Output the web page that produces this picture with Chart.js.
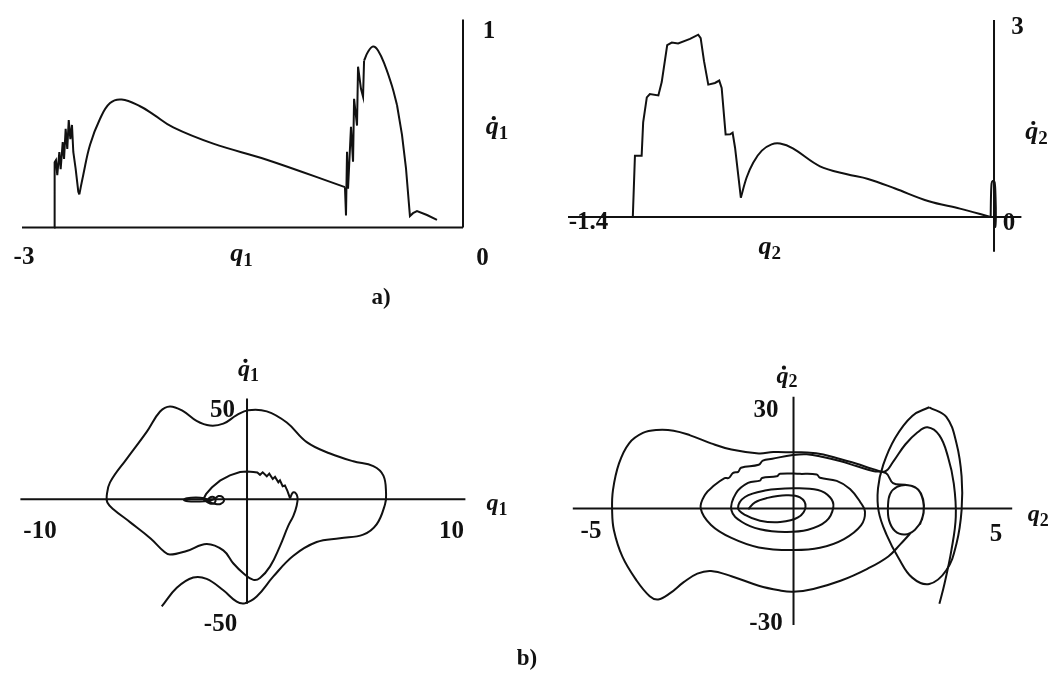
<!DOCTYPE html>
<html>
<head>
<meta charset="utf-8">
<script src="https://cdn.jsdelivr.net/npm/chart.js@4.4.1/dist/chart.umd.min.js"></script>
<style>
  html, body { margin: 0; padding: 0; background: #fff; }
  #fig { position: relative; width: 1056px; height: 681px; overflow: hidden; background: #fff; }
  #fig canvas { position: absolute; }
  .cap { position: absolute; font: bold 23px "Liberation Serif", "Times New Roman", serif; color: #111;
         line-height: 1; transform: translate(-50%, -50%); white-space: nowrap; }
</style>
</head>
<body>
<div id="fig">
  <canvas id="panelA" width="528" height="310" style="left:0;top:0"></canvas>
  <canvas id="panelB" width="528" height="310" style="left:528px;top:0"></canvas>
  <canvas id="panelC" width="528" height="351" style="left:0;top:330px"></canvas>
  <canvas id="panelD" width="528" height="351" style="left:528px;top:330px"></canvas>
  <div class="cap" style="left:381px;top:296px">a)</div>
  <div class="cap" style="left:527px;top:657px">b)</div>
</div>
<script>
// ---------- a) upper left: q1 against dq1/dt ----------
const aRiseQ  = [-2.782,-2.782,-2.776,-2.776,-2.769,-2.760,-2.746,-2.737,-2.723,-2.714,-2.703,-2.692,-2.682,-2.671,-2.660,-2.651,-2.635,-2.617,-2.610];
const aRiseV  = [0,0.122,0.300,0.314,0.324,0.252,0.363,0.281,0.411,0.330,0.474,0.378,0.517,0.425,0.493,0.363,0.282,0.172,0.159];
const aArchQ  = [-2.610,-2.583,-2.537,-2.469,-2.401,-2.322,-2.197,-2.107,-1.971,-1.699,-1.335,-0.803];
const aArchV  = [0.159,0.254,0.398,0.523,0.598,0.615,0.583,0.544,0.481,0.403,0.326,0.194];
const aBurstQ = [-0.803,-0.796,-0.789,-0.782,-0.762,-0.748,-0.741,-0.721,-0.714,-0.694,-0.680,-0.673];
const aBurstV = [0.194,0.058,0.364,0.186,0.484,0.316,0.619,0.490,0.773,0.667,0.629,0.802];
const aCapQ   = [-0.673,-0.646,-0.612,-0.578,-0.531,-0.483,-0.449];
const aCapV   = [0.802,0.845,0.870,0.851,0.780,0.680,0.589];
const aTailQ  = [-0.449,-0.415,-0.388,-0.361,-0.340,-0.313,-0.245,-0.177];
const aTailV  = [0.589,0.445,0.286,0.055,0.069,0.079,0.060,0.037];
const aTicks  = ['-3', '0', '1'];

// ---------- a) upper right: q2 against dq2/dt ----------
const bStepsQ = [-1.187,-1.180,-1.158,-1.153,-1.141,-1.131,-1.103,-1.092,-1.074,-1.059,-1.038,-0.999,-0.972,-0.964,-0.953,-0.939,-0.917,-0.903,-0.895,-0.882,-0.867,-0.859,-0.851,-0.832];
const bStepsV = [0,0.916,0.917,1.417,1.792,1.842,1.820,2.020,2.573,2.612,2.598,2.667,2.730,2.679,2.334,1.982,2.007,2.043,1.934,1.235,1.237,1.261,1.037,0.289];
const bHumpQ  = [-0.832,-0.813,-0.791,-0.763,-0.731,-0.703,-0.661,-0.572,-0.483,-0.414,-0.325,-0.214,-0.112,-0.011];
const bHumpV  = [0.289,0.591,0.817,0.994,1.087,1.099,1.027,0.759,0.640,0.570,0.426,0.235,0.125,0];
const bLoopQ  = [-0.011,-0.010,-0.008,-0.004,0.002,0.005,0.006,0.004,0.000];
const bLoopV  = [0,0.30,0.50,0.54,0.52,0.30,0.00,-0.15,-0.08];
const bTicks  = ['-1.4', '0', '3'];

// ---------- b) lower left: q1 against dq1/dt ----------
const cOuterQ = [-4.14,-3.41,-2.61,-1.96,-1.15,-0.50,-0.10,0.47,1.28,2.25,3.38,4.51,5.64,6.29,6.70,6.75,6.62,6.13,5.16,4.03,2.90,1.93,0.96,0.06,-0.50,-1.15,-1.80,-2.45,-3.10,-3.74,-4.22,-4.87,-5.84,-6.65,-6.81,-6.78,-6.49,-5.68,-4.68,-4.03,-3.74,-2.93,-1.96,-1.15,-0.66,-0.18,0.31,0.63,1.12,1.60,2.00,2.25,2.41,2.45,2.33,2.21,2.09];
const cOuterV = [-56.4,-46.6,-41.2,-41.9,-47.9,-53.9,-54.7,-51.2,-40.6,-29.7,-22.5,-20.5,-18.6,-13.2,-2.6,2.7,12.5,17.5,20.0,24.1,30.1,40.4,46.3,46.9,44.3,39.8,38.8,41.3,46.4,48.9,46.2,35.5,21.3,8.9,1.8,-1.7,-5.2,-12.0,-20.6,-27.5,-29.1,-27.2,-23.5,-26.9,-33.8,-38.9,-42.4,-41.4,-35.3,-24.6,-14.0,-8.7,-3.4,1.2,3.6,3.4,0.5];
const cArcQ   = [2.09,1.96,1.84,1.73,1.60,1.52,1.36,1.25,1.08,0.96,0.76,0.63,0.50,0.31,0.01,-0.34,-0.83,-1.31,-1.71,-1.99,-2.12];
const cArcV   = [0.5,4.4,7.3,6.9,10.0,9.0,11.8,10.7,13.5,12.1,14.2,12.9,14.1,14.4,14.6,14.4,12.6,9.8,6.2,2.7,0.0];
const cKnotQ  = [-2.12,-1.99,-1.84,-1.65,-1.53,-1.58,-1.75,-1.87,-1.75,-1.50,-1.29,-1.12,-1.19,-1.38,-1.55,-1.80,-2.04,-2.48,-2.86,-3.06,-2.91,-2.48,-2.09,-1.89];
const cKnotV  = [0.0,-1.0,-2.0,-2.3,-1.0,0.9,1.2,-0.2,-1.7,-2.5,-2.5,-0.9,1.2,1.7,0.4,-0.7,-1.0,-1.2,-1.0,-0.3,0.6,1.0,0.6,-0.5];
const cTicks  = ['-10', '10', '50', '-50'];

// ---------- b) lower right: q2 against dq2/dt ----------
const dSpiralQ = [-1.116,-0.951,-0.662,-0.185,0.160,0.296,0.111,-0.333,-0.827,-1.198,
  -1.370,-1.198,-0.704,-0.012,0.605,0.901,0.983,0.802,0.358,-0.210,
  -0.827,-1.272,-1.533,-1.420,-1.123,-0.827,-0.778,-0.415,-0.333,0.160,
  0.573,0.654,1.067,1.395,1.642,1.765,1.667,1.247,0.654,-0.017,
  -0.859,-1.533,-2.037,-2.291,-2.185,-1.963,-1.701,-1.600,-1.491,-1.365,
  -1.296,-0.859,-0.758,-0.523,-0.017,0.326,0.728,1.148,1.568,1.963,
  2.284,2.457,2.753,3.000,3.148,3.222,3.173,3.000,2.753,2.506,
  2.358,2.333,2.383,2.556,2.827,3.074,3.198,3.210,3.123];
const dSpiralV = [-0.25,1.83,3.09,3.95,3.30,0.48,-2.71,-4.08,-3.69,-1.98,
  0.08,3.42,5.35,6.02,5.51,3.33,0.35,-3.90,-6.41,-7.06,
  -6.25,-4.10,-0.57,4.56,7.64,8.32,9.14,9.62,10.39,10.36,
  10.16,9.19,8.26,5.85,2.01,-1.06,-5.11,-9.20,-11.83,-12.51,
  -11.72,-8.88,-4.98,-0.05,4.08,6.84,9.10,9.12,10.65,10.98,
  12.20,13.11,14.34,14.91,16.02,16.25,15.45,14.20,12.65,11.24,
  10.57,7.61,7.08,6.39,4.47,0.89,-3.33,-6.38,-7.84,-6.79,
  -3.53,0.67,4.29,6.43,6.95,5.65,2.38,-1.22,-4.84];
const dOuterQ = [3.602,3.728,3.899,4.007,3.958,3.815,3.602,3.309,3.057,2.760,
  2.467,2.257,1.970,1.560,1.148,0.736,0.326,-0.005,-0.499,-0.859,
  -1.533,-2.037,-2.551,-2.960,-3.383,-3.719,-4.059,-4.309,-4.459,-4.479,
  -4.435,-4.225,-3.886,-3.551,-3.341,-3.047,-2.711,-2.375,-2.037,-1.533,
  -0.859,-0.353,-0.017,0.489,1.160,1.835,2.341,2.630,2.877];
const dOuterV = [-28.66,-22.62,-12.55,-2.53,7.46,15.44,21.91,24.33,22.77,19.18,
  14.13,11.07,11.79,13.40,14.80,16.20,16.80,16.83,16.90,16.51,
  17.67,19.53,21.93,23.33,23.53,22.64,19.55,13.49,5.43,-0.58,
  -6.57,-14.51,-21.46,-26.36,-27.33,-25.46,-22.16,-19.59,-18.79,-20.38,
  -23.22,-24.60,-25.03,-24.19,-21.74,-18.07,-14.43,-10.88,-7.61];
const dRingQ = [3.351,3.773,4.025,4.151,4.151,4.025,3.773,3.351,2.931,2.593,2.299,2.104,2.086,2.215,2.509,2.931,3.351];
const dRingV = [30.36,27.46,19.50,9.53,-0.47,-10.55,-18.58,-22.70,-20.79,-14.87,-7.94,-0.96,6.03,13.06,21.15,27.77,30.36];
const dTicks = ['-5', '5', '30', '-30'];

// ---------- drawing helpers ----------
const INK = '#111';
const SERIF = '"Liberation Serif", "Times New Roman", serif';
const STROKE = 2;

function trace(qs, vs, tension) {
  return {
    data: qs.map((q, i) => ({ x: q, y: vs[i] })),
    showLine: true, pointRadius: 0, borderColor: INK, borderWidth: STROKE,
    tension, fill: false, clip: false
  };
}

function drawNumber(ctx, text, cx, cy, size) {
  ctx.font = `bold ${size}px ${SERIF}`;
  ctx.textAlign = 'center';
  ctx.textBaseline = 'alphabetic';
  ctx.fillText(text, cx, cy + 0.34 * size);
}

// italic q with an upright subscript, optionally with the time-derivative dot
function drawCoord(ctx, sub, dotted, cx, cy, size) {
  const subSize = Math.round(size * 0.73);
  ctx.textAlign = 'left';
  ctx.textBaseline = 'alphabetic';
  ctx.font = `italic bold ${size}px ${SERIF}`;
  const qw = ctx.measureText('q').width;
  ctx.font = `bold ${subSize}px ${SERIF}`;
  const sw = ctx.measureText(sub).width;
  const x0 = cx - (qw + sw) / 2;
  const base = cy + 0.12 * size;
  ctx.font = `italic bold ${size}px ${SERIF}`;
  ctx.fillText('q', x0, base);
  ctx.font = `bold ${subSize}px ${SERIF}`;
  ctx.fillText(sub, x0 + qw, base + 0.2 * size);
  if (dotted) {
    ctx.beginPath();
    ctx.arc(x0 + qw * 0.62, base - 0.46 * size - 4, 2.1, 0, Math.PI * 2);
    ctx.fill();
  }
}

// axes crossing at the origin, plus the axis annotations
function phaseAxes(labels) {
  return {
    id: 'phaseAxes',
    beforeDatasetsDraw(chart) {
      const { ctx, scales: { x, y } } = chart;
      const y0 = y.getPixelForValue(0), x0 = x.getPixelForValue(0);
      ctx.save();
      ctx.strokeStyle = INK;
      ctx.lineWidth = STROKE;
      ctx.beginPath();
      ctx.moveTo(x.getPixelForValue(x.min), y0);
      ctx.lineTo(x.getPixelForValue(x.max), y0);
      ctx.moveTo(x0, y.getPixelForValue(y.min));
      ctx.lineTo(x0, y.getPixelForValue(y.max));
      ctx.stroke();
      ctx.restore();
    },
    afterDatasetsDraw(chart) {
      const { ctx, scales: { x, y } } = chart;
      ctx.save();
      ctx.fillStyle = INK;
      for (const lb of labels) {
        const cx = x.getPixelForValue(lb.at[0]) + lb.off[0];
        const cy = y.getPixelForValue(lb.at[1]) + lb.off[1];
        if (lb.sub) drawCoord(ctx, lb.sub, lb.dot, cx, cy, lb.size);
        else drawNumber(ctx, lb.text, cx, cy, lb.size);
      }
      ctx.restore();
    }
  };
}

function panel(id, xr, yr, pad, datasets, labels) {
  return new Chart(document.getElementById(id), {
    type: 'scatter',
    data: { datasets },
    options: {
      responsive: false, animation: false, events: [],
      layout: { padding: pad },
      scales: {
        x: { type: 'linear', min: xr[0], max: xr[1], display: false },
        y: { type: 'linear', min: yr[0], max: yr[1], display: false }
      },
      plugins: { legend: { display: false }, tooltip: { enabled: false } }
    },
    plugins: [phaseAxes(labels)]
  });
}

panel('panelA', [-3, 0], [0, 1], { left: 22, right: 65, top: 19.5, bottom: 82.5 }, [
  trace(aRiseQ, aRiseV, 0),
  trace(aArchQ, aArchV, 0.4),
  trace(aBurstQ, aBurstV, 0),
  trace(aCapQ, aCapV, 0.4),
  trace(aTailQ, aTailV, 0)
], [
  { text: aTicks[0], at: [-3, 0], off: [2, 27.5], size: 25 },
  { text: aTicks[1], at: [0, 0], off: [19.5, 29], size: 25 },
  { text: aTicks[2], at: [0, 1], off: [26, 10], size: 25 },
  { sub: '1', at: [-1.5, 0], off: [-1, 30], size: 26 },
  { sub: '1', dot: true, at: [0, 0.5], off: [34, 7.5], size: 26 }
]);

panel('panelB', [-1.4, 0.09], [-0.52, 2.95], { left: 40, right: 34.6, top: 20, bottom: 58.3 }, [
  trace(bStepsQ, bStepsV, 0),
  trace(bHumpQ, bHumpV, 0.35),
  trace(bLoopQ, bLoopV, 0.3)
], [
  { text: bTicks[0], at: [-1.4, 0], off: [20.5, 4], size: 25 },
  { text: bTicks[1], at: [0, 0], off: [15, 5], size: 25 },
  { text: bTicks[2], at: [0, 2.95], off: [23.5, 5], size: 25 },
  { sub: '2', at: [-0.75, 0], off: [4, 34], size: 26 },
  { sub: '2', dot: true, at: [0, 1.2], off: [42.5, -1], size: 26 }
]);

panel('panelC', [-11, 10.6], [-55, 53], { left: 20.4, right: 62.6, top: 68.6, bottom: 77.2 }, [
  trace(cOuterQ, cOuterV, 0.4),
  trace(cArcQ, cArcV, 0),
  trace(cKnotQ, cKnotV, 0.4)
], [
  { text: cTicks[0], at: [-10, 0], off: [-1, 30], size: 25 },
  { text: cTicks[1], at: [10, 0], off: [-1.5, 30], size: 25 },
  { text: cTicks[2], at: [0, 50], off: [-24.5, 4], size: 25 },
  { text: cTicks[3], at: [0, -50], off: [-26.5, 28], size: 25 },
  { sub: '1', at: [10.6, 0], off: [31.6, 8], size: 24 },
  { sub: '1', dot: true, at: [0, 53], off: [1.5, -25.6], size: 24 }
]);

panel('panelD', [-5.45, 5.4], [-35, 33.5], { left: 44.8, right: 43.8, top: 66.8, bottom: 56.05 }, [
  trace(dSpiralQ, dSpiralV, 0.4),
  trace(dOuterQ, dOuterV, 0.4),
  trace(dRingQ, dRingV, 0.4)
], [
  { text: dTicks[0], at: [-5, 0], off: [0, 21.6], size: 25 },
  { text: dTicks[1], at: [5, 0], off: [0, 24], size: 25 },
  { text: dTicks[2], at: [0, 30], off: [-27.5, 0], size: 25 },
  { text: dTicks[3], at: [0, -30], off: [-27.5, 13.7], size: 25 },
  { sub: '2', at: [5.4, 0], off: [26, 10], size: 24 },
  { sub: '2', dot: true, at: [0, 33.5], off: [-6.5, -17], size: 24 }
]);
</script>
</body>
</html>
